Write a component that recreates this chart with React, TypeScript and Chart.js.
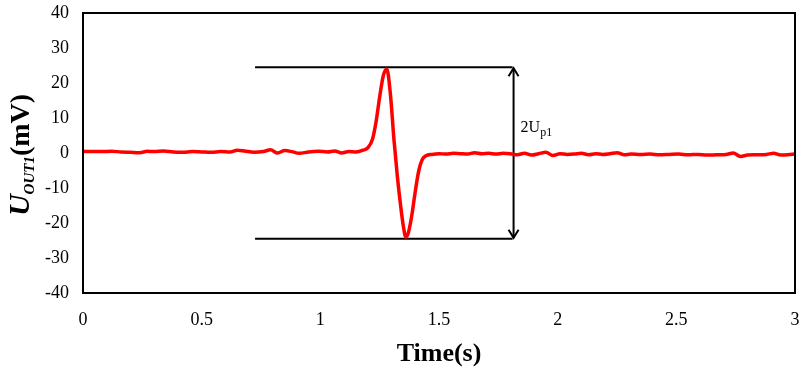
import React, { useEffect, useRef } from "react";
import { Chart, registerables } from "chart.js";

Chart.register(...registerables);

const timeValues = [
  0, 0.04, 0.08, 0.12, 0.16, 0.2, 0.24, 0.27, 0.3, 0.34, 0.38, 0.42, 0.46, 0.5, 0.54, 0.58, 0.62, 0.65, 0.68, 0.72,
  0.76, 0.79, 0.82, 0.85, 0.88, 0.91, 0.95, 0.99, 1.03, 1.06, 1.09, 1.12, 1.15, 1.18,
  1.2, 1.22, 1.235, 1.25, 1.265, 1.28, 1.295, 1.31, 1.325, 1.34, 1.35, 1.36, 1.37, 1.385, 1.4, 1.415, 1.43, 1.445,
  1.47, 1.5, 1.53, 1.56, 1.59, 1.62, 1.65, 1.68,
  1.71, 1.74, 1.77, 1.8, 1.83, 1.86, 1.89, 1.92, 1.95, 1.98, 2.01, 2.04, 2.07, 2.1, 2.13, 2.16, 2.19, 2.22, 2.25,
  2.28, 2.31, 2.35, 2.39, 2.43, 2.47, 2.51, 2.55, 2.59, 2.63, 2.67, 2.71, 2.74, 2.77, 2.8, 2.84, 2.88, 2.91, 2.94,
  2.97, 3.0,
];

const voltageValues = [
  0.5, 0.4, 0.4, 0.5, 0.3, 0.2, 0.1, 0.5, 0.4, 0.6, 0.3, 0.2, 0.4, 0.3, 0.2, 0.4, 0.3, 0.8, 0.6, 0.2,
  0.4, 0.9, 0.0, 0.7, 0.4, -0.1, 0.3, 0.5, 0.3, 0.6, 0.0, 0.4, 0.3, 0.8,
  1.5, 4, 9, 16, 22, 24, 17, 4, -7, -16, -21, -24, -23, -18, -11, -5, -1.8, -0.8,
  -0.4, -0.2, -0.3, -0.1, -0.2, -0.3, 0.1, -0.2,
  -0.1, -0.3, -0.1, -0.2, -0.5, -0.1, -0.6, -0.2, 0.2, -0.7, -0.2, -0.4, -0.3, -0.1, -0.5, -0.2, -0.4, -0.2, 0.1,
  -0.5, -0.3, -0.4, -0.3, -0.5, -0.4, -0.3, -0.5, -0.4, -0.6, -0.5, -0.4, 0.0, -1.0, -0.6, -0.5, -0.4, -0.1, -0.6,
  -0.5, -0.3,
];

const xTicks = [0, 0.5, 1, 1.5, 2, 2.5, 3];
const yTicks = [-40, -30, -20, -10, 0, 10, 20, 30, 40];

const annotationLevels = [24.5, -24.5];
const annotationStart = 0.725;
const annotationEnd = 1.81;

const SERIF = "'Liberation Serif', 'Times New Roman', serif";

const drawPlugin = {
  id: "customDraw",
  beforeDatasetsDraw(chart: any) {
    const { ctx, scales } = chart;
    const xs = scales.x;
    const ys = scales.y;
    ctx.save();
    ctx.strokeStyle = "#000";
    ctx.lineWidth = 2;
    const x0 = xs.getPixelForValue(annotationStart);
    const x1 = xs.getPixelForValue(annotationEnd);
    annotationLevels.forEach((lv) => {
      const y = ys.getPixelForValue(lv);
      ctx.beginPath();
      ctx.moveTo(x0, y);
      ctx.lineTo(x1, y);
      ctx.stroke();
    });
    const ya = ys.getPixelForValue(annotationLevels[0]);
    const yb = ys.getPixelForValue(annotationLevels[1]);
    const xa = xs.getPixelForValue(annotationEnd) + 1;
    ctx.beginPath();
    ctx.moveTo(xa, ya + 1);
    ctx.lineTo(xa, yb - 1);
    ctx.stroke();
    ctx.beginPath();
    ctx.moveTo(xa - 5, ya + 9);
    ctx.lineTo(xa, ya + 1);
    ctx.lineTo(xa + 5, ya + 9);
    ctx.moveTo(xa - 5, yb - 9);
    ctx.lineTo(xa, yb - 1);
    ctx.lineTo(xa + 5, yb - 9);
    ctx.stroke();
    ctx.fillStyle = "#000";
    ctx.textBaseline = "alphabetic";
    ctx.textAlign = "left";
    ctx.font = `16px ${SERIF}`;
    const lx = xa + 7;
    const ly = 132;
    ctx.fillText("2U", lx, ly);
    const w = ctx.measureText("2U").width;
    ctx.font = `12px ${SERIF}`;
    ctx.fillText("p1", lx + w, ly + 4);
    ctx.restore();
  },
  afterDraw(chart: any) {
    const { ctx, chartArea } = chart;
    ctx.save();
    ctx.strokeStyle = "#000";
    ctx.lineWidth = 2;
    ctx.strokeRect(chartArea.left, chartArea.top, chartArea.right - chartArea.left, chartArea.bottom - chartArea.top);

    ctx.fillStyle = "#000";
    ctx.font = `bold 26px ${SERIF}`;
    ctx.textAlign = "center";
    ctx.textBaseline = "middle";
    ctx.fillText("Time(s)", (chartArea.left + chartArea.right) / 2, 354);

    ctx.translate(19, 155);
    ctx.rotate(-Math.PI / 2);
    ctx.textAlign = "left";
    ctx.textBaseline = "alphabetic";
    const parts = [
      { t: "U", f: `bold italic 30px ${SERIF}`, dy: 0 },
      { t: "OUT1", f: `bold italic 15px ${SERIF}`, dy: 5 },
      { t: "(mV)", f: `bold 28px ${SERIF}`, dy: 0 },
    ];
    let total = 0;
    parts.forEach((p) => {
      ctx.font = p.f;
      total += ctx.measureText(p.t).width;
    });
    let cx = -total / 2;
    parts.forEach((p) => {
      ctx.font = p.f;
      ctx.fillText(p.t, cx, 10 + p.dy);
      cx += ctx.measureText(p.t).width;
    });
    ctx.restore();
  },
};

export default function App() {
  const ref = useRef<HTMLCanvasElement>(null);
  useEffect(() => {
    if (!ref.current) return;
    const data = timeValues.map((t, i) => ({ x: t, y: voltageValues[i] }));
    const chart = new Chart(ref.current, {
      type: "line",
      data: {
        datasets: [
          {
            data,
            borderColor: "#ff0000",
            borderWidth: 3.5,
            pointRadius: 0,
            cubicInterpolationMode: "monotone",
            fill: false,
          },
        ],
      },
      options: {
        animation: false,
        responsive: false,
        layout: { padding: { left: 0, right: 9, top: 13, bottom: 0 } },
        plugins: { legend: { display: false }, tooltip: { enabled: false } },
        scales: {
          x: {
            type: "linear",
            min: 0,
            max: 3,
            afterBuildTicks: (s: any) => {
              s.ticks = xTicks.map((v) => ({ value: v }));
            },
            afterFit: (s: any) => {
              s.height = 82;
              s.paddingLeft = 0;
              s.paddingRight = 0;
            },
            grid: { display: false, drawTicks: false },
            border: { display: false },
            ticks: {
              color: "#000",
              font: { family: SERIF, size: 18 },
              padding: 16,
              maxRotation: 0,
              callback: (v: any) => String(v),
            },
          },
          y: {
            type: "linear",
            min: -40,
            max: 40,
            afterBuildTicks: (s: any) => {
              s.ticks = yTicks.map((v) => ({ value: v }));
            },
            afterFit: (s: any) => {
              s.width = 83;
              s.paddingTop = 0;
              s.paddingBottom = 0;
            },
            grid: { display: false, drawTicks: false },
            border: { display: false },
            ticks: { color: "#000", font: { family: SERIF, size: 18 }, padding: 14, callback: (v: any) => String(v) },
          },
        },
      },
      plugins: [drawPlugin],
    });
    return () => chart.destroy();
  }, []);
  return (
    <div style={{ position: "absolute", left: 0, top: 0, width: 804, height: 375, background: "#fff" }}>
      <canvas ref={ref} width={804} height={375} />
    </div>
  );
}
